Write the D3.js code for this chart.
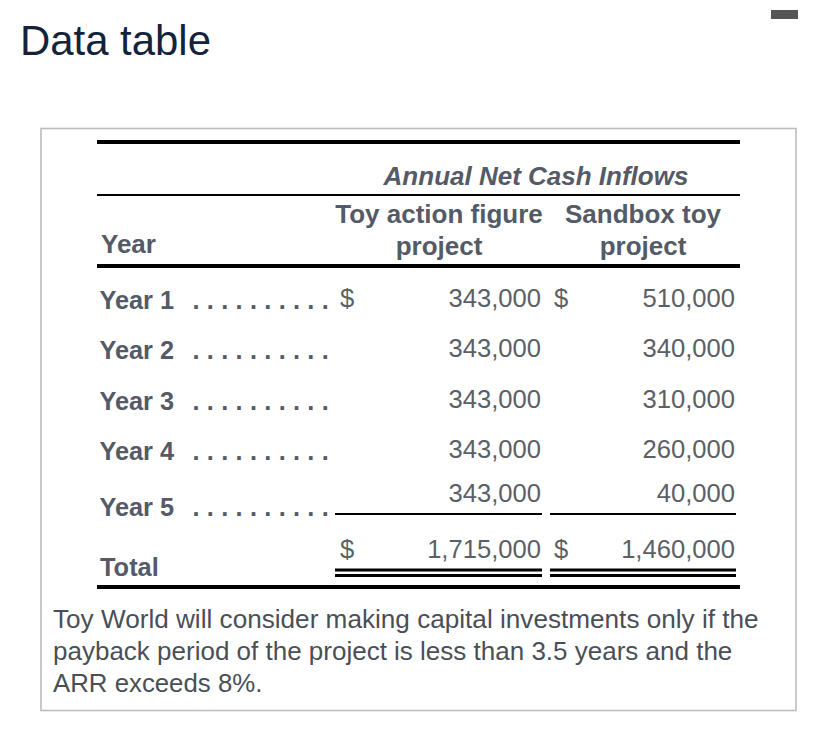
<!DOCTYPE html>
<html><head><meta charset="utf-8">
<script src="https://cdn.jsdelivr.net/npm/d3@7/dist/d3.min.js"></script>
<style>html,body{margin:0;padding:0;background:#fff;overflow:hidden}svg{display:block}text{font-family:"Liberation Sans",Arial,sans-serif}</style>
</head><body><svg id="c" width="828" height="740"></svg>
<script>
const title = "Data table";
const groupHeader = "Annual Net Cash Inflows";
const yearHeader = "Year";
const projectHeaders = [["Toy action figure","project"],["Sandbox toy","project"]];
const years = ["Year 1","Year 2","Year 3","Year 4","Year 5"];
const toyValues = [343000,343000,343000,343000,343000];
const sandboxValues = [510000,340000,310000,260000,40000];
const totalLabel = "Total";
const totals = [1715000,1460000];
const note = ["Toy World will consider making capital investments only if the","payback period of the project is less than 3.5 years and the","ARR exceeds 8%."];

const fmt = d3.format(",");
const svg = d3.select("#c");
const dark = "#545a66", black = "#000";
const T = (x,y,s,o={}) => svg.append("text").attr("x",x).attr("y",y).text(s)
  .attr("font-size",o.size||25.6).attr("font-weight",o.weight||"normal").attr("font-style",o.style||"normal")
  .attr("text-anchor",o.anchor||"start").attr("fill",o.fill||"#5b5f66");
const L = (x1,x2,y,w) => svg.append("rect").attr("x",x1).attr("width",x2-x1).attr("y",y-w/2).attr("height",w).attr("fill",black);

// layout
const labelY = d3.scalePoint().domain(years.slice(0,4)).range([309,460]);
const valueY = d3.scalePoint().domain(years.slice(0,4)).range([307,458]);
const yLab = y => y==="Year 5" ? 516 : labelY(y);
const yVal = y => y==="Year 5" ? 502 : valueY(y);

T(20,55,title,{size:41.9,fill:"#14233a"});
svg.append("rect").attr("x",41).attr("y",128.5).attr("width",755).attr("height",582).attr("fill","none").attr("stroke","#bcbcbc").attr("stroke-width",1.6);
svg.append("rect").attr("x",771).attr("y",10).attr("width",27).attr("height",9).attr("fill","#555");

L(97,740,142,4); L(97,740,195,2); L(97,740,266,4);
T(536,185,groupHeader,{weight:"bold",style:"italic",anchor:"middle",size:26,fill:dark});
T(101,253,yearHeader,{weight:"bold",size:26,fill:dark});
const hx=[439,643];
projectHeaders.forEach((h,i)=>h.forEach((s,j)=>T(hx[i],223+j*32,s,{weight:"bold",anchor:"middle",size:26,fill:dark})));

years.forEach((y,i)=>{
  T(99.5,yLab(y),y,{weight:"bold",size:25.3,fill:dark});
  T(192.5,yLab(y),Array(10).fill(".").join(" "),{weight:"bold",size:25.3,fill:dark}).attr("letter-spacing",0.15);
  T(541,yVal(y),fmt(toyValues[i]),{anchor:"end"});
  T(735,yVal(y),fmt(sandboxValues[i]),{anchor:"end"});
});
T(340,307,"$"); T(554,307,"$");
L(335,542,514,2); L(550,736,514,2);
T(340,558,"$"); T(554,558,"$");
T(541,558,fmt(totals[0]),{anchor:"end"});
T(735,558,fmt(totals[1]),{anchor:"end"});
T(100,576,totalLabel,{weight:"bold",size:25.4,fill:dark});
[[335,542],[550,736]].forEach(r=>{L(r[0],r[1],570,3);L(r[0],r[1],575.5,3);});
L(97,740,587,4);
const noteSizes=[26.15,26,25.8];
note.forEach((s,i)=>T(53,628+i*32,s,{size:noteSizes[i],fill:"#4a4f57"}));
</script></body></html>
